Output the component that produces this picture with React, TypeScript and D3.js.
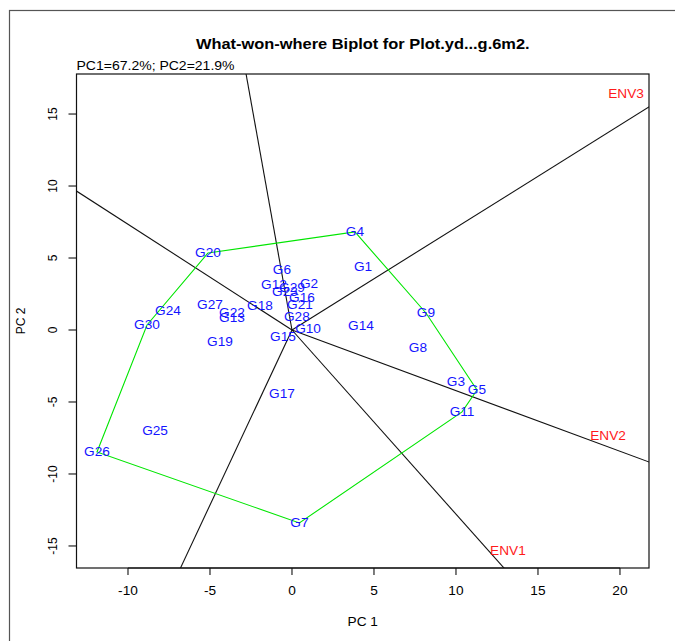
import React from "react";
import { scaleLinear, line } from "d3";

// genotype scores (PC1, PC2)
const genotypes = [
  "G1", "G2", "G3", "G4", "G5", "G6", "G7", "G8", "G9", "G10",
  "G11", "G12", "G13", "G14", "G15", "G16", "G17", "G18", "G19", "G20",
  "G21", "G22", "G23", "G24", "G25", "G26", "G27", "G28", "G29", "G30",
];
const genoPC1 = [
  4.33, 1.04, 10.0, 3.84, 11.28, -0.61, 0.45, 7.68, 8.17, 0.98,
  10.37, -1.1, -3.66, 4.21, -0.55, 0.61, -0.61, -1.95, -4.39, -5.12,
  0.49, -3.66, -0.43, -7.56, -8.35, -11.89, -5.0, 0.3, 0.0, -8.84,
];
const genoPC2 = [
  4.38, 3.19, -3.61, 6.81, -4.17, 4.17, -13.4, -1.25, 1.18, 0.07,
  -5.69, 3.13, 0.83, 0.28, -0.49, 2.22, -4.44, 1.67, -0.83, 5.35,
  1.74, 1.18, 2.64, 1.32, -7.01, -8.47, 1.74, 0.9, 2.92, 0.35,
];

// environment labels
const environments = ["ENV1", "ENV2", "ENV3"];
const envPC1 = [13.17, 19.27, 20.37];
const envPC2 = [-15.35, -7.36, 16.4];

// polygon (convex hull) vertices
const hullOrder = ["G20", "G4", "G9", "G5", "G11", "G7", "G26", "G30"];

// rays from the origin, perpendicular to the polygon sides (direction in PC units)
const rayPC1 = [-2.8, -13.14, 21.77, 21.77, 12.87, -6.77];
const rayPC2 = [17.78, 9.65, 15.49, -9.17, -16.46, -16.46];

const xTicks = [-10, -5, 0, 5, 10, 15, 20];
const yTicks = [-15, -10, -5, 0, 5, 10, 15];

const title = "What-won-where Biplot for Plot.yd...g.6m2.";
const subtitle = "PC1=67.2%; PC2=21.9%";

const W = 675;
const H = 641;
const box = { left: 76.5, right: 649, top: 74, bottom: 568 };
const SX = 1.14; // picture is stretched horizontally
const font = "'Liberation Sans', Arial, sans-serif";

const x = scaleLinear().domain([-13.14, 21.77]).range([box.left, box.right]);
const y = scaleLinear().domain([-16.53, 17.78]).range([box.bottom, box.top]);

function T(props: {
  x: number; y: number; children: React.ReactNode; size?: number; fill?: string;
  anchor?: string; weight?: string; rotate?: number; baseline?: string;
}) {
  const { size = 12, fill = "#000", anchor = "middle", weight = "normal", rotate = 0, baseline = "central" } = props;
  return (
    <text
      transform={`translate(${props.x},${props.y}) scale(${SX},1)${rotate ? ` rotate(${rotate})` : ""}`}
      fontFamily={font}
      fontSize={size}
      fontWeight={weight}
      fill={fill}
      textAnchor={anchor}
      dominantBaseline={baseline}
    >
      {props.children}
    </text>
  );
}

export default function App() {
  const idx = (g: string) => genotypes.indexOf(g);
  const hullPts = hullOrder.map((g) => [genoPC1[idx(g)], genoPC2[idx(g)]] as [number, number]);
  const hullPath = line<[number, number]>()
    .x((d) => x(d[0]))
    .y((d) => y(d[1]))([...hullPts, hullPts[0]]) as string;

  const rayPath = line<[number, number]>()
    .x((d) => x(d[0]))
    .y((d) => y(d[1]));

  return (
    <svg width={W} height={H} style={{ position: "absolute", left: 0, top: 0, background: "#fff" }}>
      <defs>
        <clipPath id="plotclip">
          <rect x={box.left} y={box.top} width={box.right - box.left} height={box.bottom - box.top} />
        </clipPath>
      </defs>
      <rect x={0} y={0} width={W} height={H} fill="#fff" />
      {/* outer frame */}
      <rect x={9.5} y={10.5} width={W + 20} height={H + 20} fill="none" stroke="#555" strokeWidth={1.2} />

      <T x={(box.left + box.right) / 2} y={44} size={14.4} weight="bold">{title}</T>
      <T x={box.left} y={70} size={12.3} anchor="start" baseline="auto">{subtitle}</T>

      <g clipPath="url(#plotclip)">
        {rayPC1.map((dx, i) => (
          <path
            key={"ray" + i}
            d={rayPath([[0, 0], [dx * 1.5, rayPC2[i] * 1.5]]) as string}
            stroke="#111"
            strokeWidth={1.1}
            fill="none"
          />
        ))}
        <path d={hullPath} fill="none" stroke="#00e600" strokeWidth={1.1} />
        {genotypes.map((g, i) => (
          <T key={g} x={x(genoPC1[i])} y={y(genoPC2[i])} fill="#1414ff" size={12}>{g}</T>
        ))}
        {environments.map((e, i) => (
          <T key={e} x={x(envPC1[i])} y={y(envPC2[i])} fill="#ff1a1a" size={12}>{e}</T>
        ))}
      </g>

      <rect
        x={box.left}
        y={box.top}
        width={box.right - box.left}
        height={box.bottom - box.top}
        fill="none"
        stroke="#111"
        strokeWidth={1.2}
      />

      {/* x axis */}
      <line x1={x(xTicks[0])} x2={x(xTicks[xTicks.length - 1])} y1={box.bottom} y2={box.bottom} stroke="#111" />
      {xTicks.map((t) => (
        <g key={"xt" + t}>
          <line x1={x(t)} x2={x(t)} y1={box.bottom} y2={box.bottom + 7} stroke="#111" strokeWidth={1.1} />
          <T x={x(t)} y={591} size={12}>{t}</T>
        </g>
      ))}
      <T x={(box.left + box.right) / 2} y={622} size={12}>PC 1</T>

      {/* y axis */}
      {yTicks.map((t) => (
        <g key={"yt" + t}>
          <line x1={box.left - 8} x2={box.left} y1={y(t)} y2={y(t)} stroke="#111" strokeWidth={1.1} />
          <T x={52} y={y(t)} size={12} rotate={-90}>{t}</T>
        </g>
      ))}
      <T x={20} y={(box.top + box.bottom) / 2} size={12} rotate={-90}>PC 2</T>
    </svg>
  );
}
